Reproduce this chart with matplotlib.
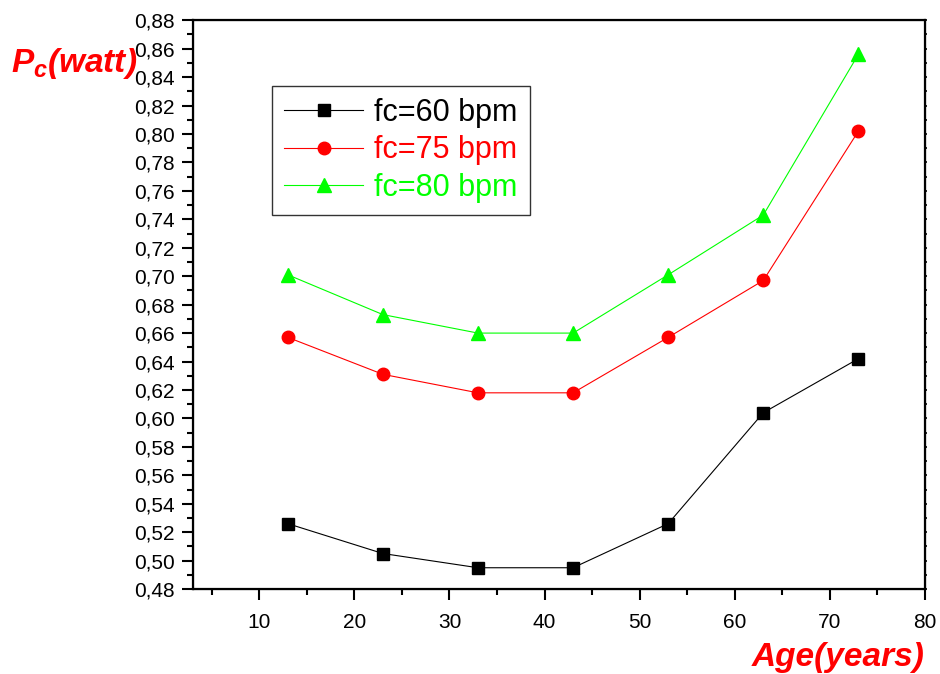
import numpy as np
import matplotlib
matplotlib.use("Agg")
import matplotlib.pyplot as plt
from matplotlib.ticker import MultipleLocator, FuncFormatter

plt.rcParams['font.family'] = ['Liberation Sans', 'DejaVu Sans']
plt.rcParams['mathtext.fontset'] = 'custom'
plt.rcParams['mathtext.it'] = 'Liberation Sans:italic:bold'
plt.rcParams['mathtext.rm'] = 'Liberation Sans:italic:bold'

# data
age = [13, 23, 33, 43, 53, 63, 73]
fc60 = [0.526, 0.505, 0.495, 0.495, 0.526, 0.604, 0.642]
fc75 = [0.657, 0.631, 0.618, 0.618, 0.657, 0.697, 0.802]
fc80 = [0.701, 0.673, 0.660, 0.660, 0.701, 0.743, 0.856]
labels = ['fc=60 bpm', 'fc=75 bpm', 'fc=80 bpm']

fig = plt.figure(figsize=(9.4, 6.74), dpi=100)
ax = fig.add_axes([0.205, 0.126, 0.779, 0.844])

ax.plot(age, fc60, color='black', marker='s', markersize=8, linewidth=0.8, label=labels[0])
ax.plot(age, fc75, color='#ff0000', marker='o', markersize=9, linewidth=0.8, label=labels[1])
ax.plot(age, fc80, color='#00ff00', marker='^', markersize=10, linewidth=0.8, label=labels[2])

ax.set_xlim(3, 80)
ax.set_ylim(0.48, 0.88)
ax.xaxis.set_major_locator(MultipleLocator(10))
ax.xaxis.set_minor_locator(MultipleLocator(5))
ax.yaxis.set_major_locator(MultipleLocator(0.02))
ax.yaxis.set_minor_locator(MultipleLocator(0.01))
ax.yaxis.set_major_formatter(FuncFormatter(lambda v, p: ('%.2f' % v).replace('.', ',')))

for s in ax.spines.values():
    s.set_linewidth(1.6)
ax.tick_params(which='major', direction='out', length=8, width=1.5, labelsize=15)
ax.tick_params(which='minor', direction='out', length=4.3, width=1.5)
ax.tick_params(axis='x', which='major', pad=9)
ax.tick_params(axis='y', which='major', pad=5)

# tiny ticks on the right side, no labels
axr = ax.twinx()
axr.set_ylim(ax.get_ylim())
axr.yaxis.set_major_locator(MultipleLocator(0.01))
axr.tick_params(axis='y', direction='out', length=1.5, width=1.2, labelright=False)

leg = ax.legend(loc='upper left', bbox_to_anchor=(0.108, 0.885), fontsize=22, frameon=True,
                fancybox=False, edgecolor='black', handlelength=2.6, handletextpad=0.35,
                borderpad=0.4, labelspacing=0.25, borderaxespad=0)
leg.get_frame().set_linewidth(1.0)
for t, c in zip(leg.get_texts(), ['black', '#ff0000', '#00ff00']):
    t.set_color(c)

fig.text(0.012, 0.893, r'$P_c(watt)$', color='#ff0000', fontsize=24)
fig.text(0.984, 0.012, 'Age(years)', color='#ff0000', fontsize=24,
         fontweight='bold', fontstyle='italic', ha='right')

fig.savefig('out.png', dpi=100)
